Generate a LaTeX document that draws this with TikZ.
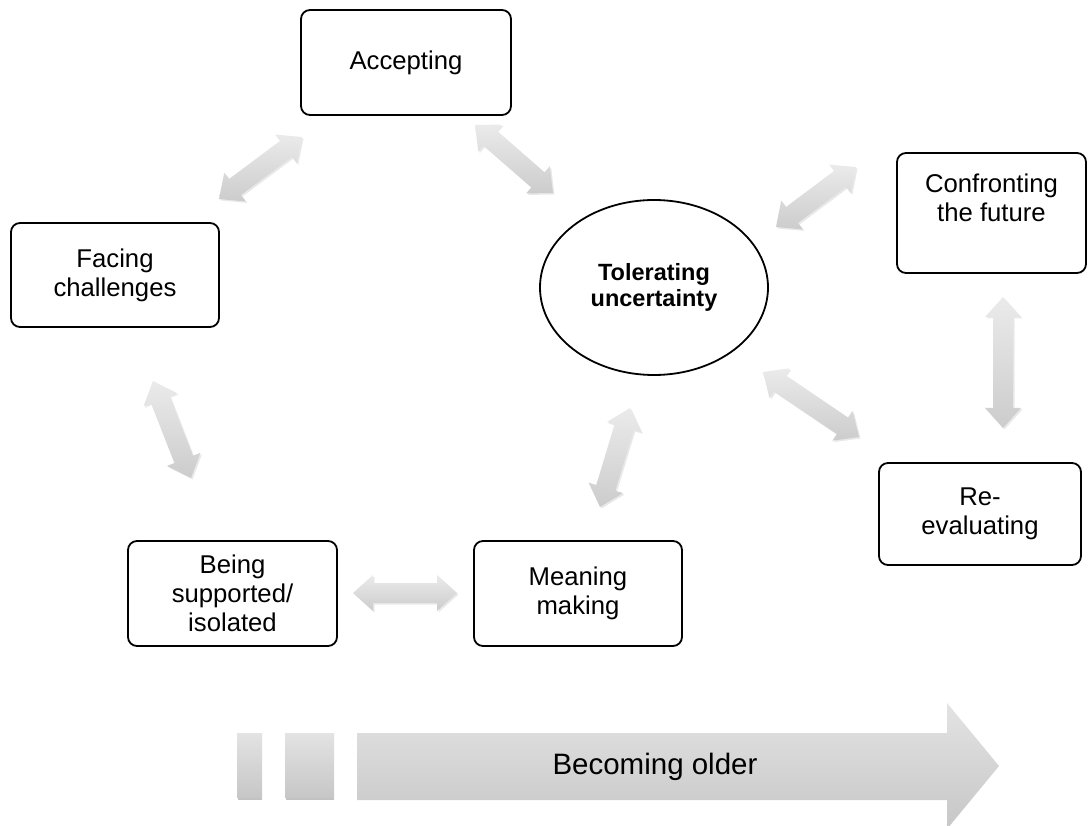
\documentclass[tikz,border=0pt]{standalone}
\usepackage{fontspec}
\setmainfont{Liberation Sans}
\usetikzlibrary{calc,shapes.geometric,shadows}
\tikzset{
  box/.style={draw=black, line width=1.8pt, rounded corners=9pt, inner sep=0pt, align=center,
    font=\fontsize{25.7}{29}\selectfont},
  ell/.style={draw=black, line width=1.8pt, ellipse, inner sep=0pt, align=center,
    font=\bfseries\fontsize{23.5}{26}\selectfont},
  arrowfill/.style={top color=black!8, bottom color=black!20, draw=none,
    drop shadow={shadow xshift=1.5pt, shadow yshift=-1.5pt, opacity=0.22, fill=black!40}},
  bigfill/.style={top color=black!11, bottom color=black!22, draw=none}
}
\newcommand\dblarr[2]{%
  \coordinate (h1) at ($(#1)!20pt!(#2)$);
  \coordinate (h2) at ($(#2)!20pt!(#1)$);
  \path[arrowfill] (#1) -- ($(h1)!18pt!90:(#2)$) -- ($(h1)!10pt!90:(#2)$)
    -- ($(h2)!10pt!-90:(#1)$) -- ($(h2)!18pt!-90:(#1)$) -- (#2)
    -- ($(h2)!18pt!90:(#1)$) -- ($(h2)!10pt!90:(#1)$)
    -- ($(h1)!10pt!-90:(#2)$) -- ($(h1)!18pt!-90:(#2)$) -- cycle;}
\begin{document}
\begin{tikzpicture}[x=1pt,y=-1pt]
\useasboundingbox (0,0) rectangle (1088,826);
\clip (0,0) rectangle (1088,826);
% nodes
\node[box, minimum width=210pt, minimum height=105pt] (acc) at (406,62.5) {Accepting};
\node[box, minimum width=208pt, minimum height=104pt] (fac) at (115,275) {Facing\\challenges};
\node[box, minimum width=209pt, minimum height=105pt] (bei) at (232.5,593.5) {Being\\supported/\\isolated};
\node[box, minimum width=208pt, minimum height=105pt] (mea) at (578,593.5) {Meaning\\making};
\node[box, minimum width=202pt, minimum height=102pt] (rev) at (980,514) {Re-\\evaluating};
\node[box, minimum width=189pt, minimum height=120pt] (cf) at (991.5,213) {};
\node[align=center, inner sep=0pt, font=\fontsize{25.7}{29}\selectfont] (cft) at (991.5,198) {Confronting\\the future};
\node[ell, minimum width=228pt, minimum height=175pt] (tol) at (654,287.5) {Tolerating\\uncertainty};
% arrow ends
\coordinate (a1) at (219,199);  \coordinate (a2) at (302,137);
\coordinate (b1) at (475,125);  \coordinate (b2) at (553,193);
\coordinate (c1) at (776,227);  \coordinate (c2) at (856,167);
\coordinate (d1) at (1003,297); \coordinate (d2) at (1003,428);
\coordinate (e1) at (763,372);  \coordinate (e2) at (859,437);
\coordinate (f1) at (630,408);  \coordinate (f2) at (600,507);
\coordinate (g1) at (153,381);  \coordinate (g2) at (191,478);
\coordinate (k1) at (353,593);  \coordinate (k2) at (457,593);
\dblarr{a1}{a2}
\dblarr{b1}{b2}
\dblarr{c1}{c2}
\dblarr{d1}{d2}
\dblarr{e1}{e2}
\dblarr{f1}{f2}
\dblarr{g1}{g2}
\dblarr{k1}{k2}
% big arrow
\fill[black!24] (238,736) rectangle (262,800);
\fill[black!24] (286,736) rectangle (334,800);
\path[bigfill] (237,733) rectangle (262,797);
\path[bigfill] (285,733) rectangle (334,797);
\path[bigfill] (357,733) -- (947,733) -- (947,703) -- (999,766) -- (947,829) -- (947,800) -- (357,800) -- cycle;
\node[inner sep=0pt, font=\fontsize{29.5}{34}\selectfont] (old) at (655,767) {Becoming older};
\end{tikzpicture}
\end{document}
